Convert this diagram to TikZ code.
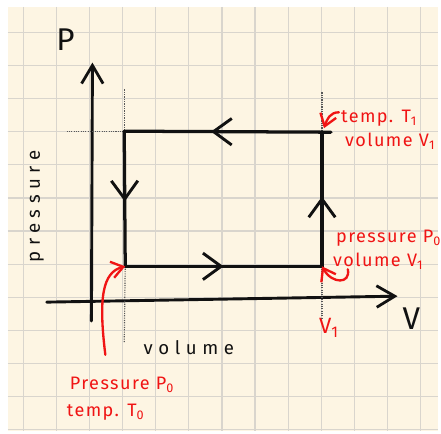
\documentclass[tikz,border=0pt]{standalone}
\usepackage{fontspec}
\setmainfont{Fira Sans}
\newfontfamily\spacedfont[LetterSpace=30]{Fira Sans}
\newfontfamily\notefont[LetterSpace=8]{Fira Sans}
\usetikzlibrary{arrows.meta,decorations.markings}
\definecolor{paper}{HTML}{FDF5E3}
\definecolor{gridline}{HTML}{D9D5CD}
\definecolor{ink}{HTML}{111111}
\definecolor{redink}{HTML}{F01414}

\begin{document}
\begin{tikzpicture}[
    x=0.03cm, y=-0.03cm,
    axis/.style={ink, line width=2.5pt, line cap=round, -{Straight Barb[length=5.5mm, width=6.5mm, line width=2.4pt]}},
    edge/.style={ink, line width=2.8pt, line cap=round},
    midarrow/.style={postaction={decorate}, decoration={markings,
        mark=at position #1 with {\arrow{Straight Barb[length=5.5mm, width=8mm, line width=2.5pt]}}}},
    guide/.style={ink!70, line width=1pt, densely dotted},
    label/.style={ink, font=\fontsize{27}{29}\selectfont, inner sep=0pt},
    caption/.style={ink, font=\spacedfont\fontsize{16}{18}\selectfont, inner sep=0pt},
    note/.style={redink, font=\notefont\fontsize{15.5}{17}\selectfont, inner sep=0pt, anchor=west},
    pointer/.style={redink, line width=2pt, line cap=round, -{Straight Barb[length=3.5mm, width=5mm, line width=2pt]}}
]
% paper and grid
\fill[white] (0,0) rectangle (441,436);
\fill[paper] (8,7) rectangle (441,434);
\foreach \k in {0,...,12}
  \draw[gridline, line width=1.1pt] ({23.3+33.33*\k},7) -- ({23.3+33.33*\k},434);
\foreach \k in {0,...,12}
  \draw[gridline, line width=1.1pt] (8,{32.5+33.33*\k}) -- (441,{32.5+33.33*\k});

% corners of the cycle
\coordinate (tl) at (125,132);
\coordinate (tr) at (324,133);
\coordinate (trend) at (333,133);
\coordinate (br) at (324,268);
\coordinate (bl) at (126,268);

% axes
\coordinate (ybot) at (92,323);
\coordinate (ytop) at (93,63);
\coordinate (xleft) at (47,304);
\coordinate (xright) at (400,298);
\draw[axis] (ybot) -- (ytop);
\draw[axis] (xleft) -- (xright);
\node[label] (plabel) at (66,40) {P};
\node[label] (vlabel) at (414,321) {V};
\node[caption, rotate=90] (pressure) at (37,208) {pressure};
\node[caption] (volume) at (190,350) {volume};
\node[redink, font=\fontsize{19}{21}\selectfont, inner sep=0pt] (vone) at (331,330) {V\textsubscript{1}};

% guide lines
\coordinate (gtl) at (125,90);
\coordinate (gbl) at (125,345);
\coordinate (gleft) at (67,132);
\coordinate (gtr) at (324,93);
\coordinate (gbr) at (324,320);
\draw[guide] (gtl) -- (tl);
\draw[guide] (bl) -- (gbl);
\draw[guide] (gleft) -- (tl);
\draw[guide] (gtr) -- (tr);
\draw[guide] (br) -- (gbr);

% the cycle
\draw[edge, midarrow=0.58] (trend) -- (tl);
\draw[edge, midarrow=0.52] (tl) -- (bl);
\draw[edge, midarrow=0.5] (bl) -- (br);
\draw[edge, midarrow=0.52] (br) -- (tr);

% states
\node[note] (tempone) at (343,119) {temp. T\textsubscript{1}};
\node[note] (volone) at (347,142) {volume V\textsubscript{1}};
\node[note] (presszero) at (338,240) {pressure P\textsubscript{0}};
\node[note] (volonelow) at (335,263) {volume V\textsubscript{1}};
\node[note] (presslow) at (70,387) {Pressure P\textsubscript{0}};
\node[note] (templow) at (67,415) {temp. T\textsubscript{0}};

% pointers
\coordinate (hooktop) at (341,113);
\coordinate (hookbot) at (350,271);
\coordinate (tail) at (106,357);
\draw[pointer] (hooktop) .. controls (332,113) and (329,120) .. (326,129);
\draw[pointer] (hookbot) .. controls (353,286) and (334,286) .. (br);
\draw[pointer] (tail) .. controls (99,300) and (103,274) .. (bl);
\end{tikzpicture}
\end{document}
